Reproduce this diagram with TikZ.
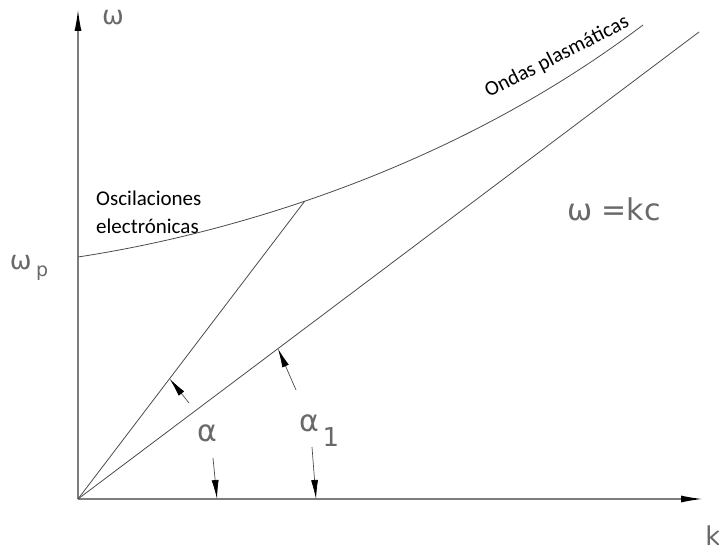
\documentclass[tikz,border=0pt]{standalone}
\usepackage{fontspec}
\setmainfont{Carlito}
\newfontfamily\cadfont{DejaVu Sans}
\usetikzlibrary{arrows.meta, positioning, calc}
\definecolor{axisgray}{RGB}{125,125,125}
\definecolor{linegray}{RGB}{75,75,75}
\definecolor{labelgray}{RGB}{105,105,105}

\tikzset{
  axis/.style={line width=1.6pt, axisgray, -{Latex[length=22pt,width=7pt,color=black]}},
  ray/.style={line width=0.8pt, linegray},
  anglearrow/.style={line width=0.7pt, linegray, -{Latex[length=19pt,width=7pt,color=black]}},
  cadlabel/.style={font=\cadfont\fontsize{26}{26}\selectfont, labelgray, inner sep=0pt},
  curvetext/.style={font=\fontsize{21}{28}\selectfont, black, inner sep=0pt, align=left},
}

\begin{document}
\begin{tikzpicture}[x=1pt, y=1pt]
    \useasboundingbox (0,0) rectangle (719,554);

    % axes
    \coordinate (O) at (78,55);
    \coordinate (ytip) at (78,545);
    \coordinate (xtip) at (703,55);
    \draw[axis] (O) -- (ytip);
    \draw[axis] (O) -- (xtip);
    \node[cadlabel] (wlabel) at (113,536) {ω};
    \node[cadlabel] (klabel) at (713,18) {k};
    \node[cadlabel] (wplabel) at (29,286) {ω\,\raisebox{-0.5ex}{\fontsize{19}{19}\selectfont p}};

    % dispersion curve
    \coordinate (wp) at (78,297);
    \coordinate (qend) at (643,529);
    \draw[ray] (wp) .. controls (190,314) and (430,368) .. coordinate[pos=0.47] (P) (qend);

    % light line and group line
    \coordinate (lend) at (699,522);
    \draw[ray] (O) -- (lend);
    \draw[ray] (O) -- (P);

    % angle arrows
    \coordinate (tip1) at ($(O)!0.404!(P)$);
    \coordinate (tail1) at (189,151);
    \coordinate (tip2) at ($(O)!0.322!(lend)$);
    \coordinate (tail2) at (296,164);
    \coordinate (tip3) at (217,55);
    \coordinate (tail3) at (213,96);
    \coordinate (tip4) at (316,55);
    \coordinate (tail4) at (312,107);
    \draw[anglearrow] (tail1) -- (tip1);
    \draw[anglearrow] (tail2) -- (tip2);
    \draw[anglearrow] (tail3) -- (tip3);
    \draw[anglearrow] (tail4) -- (tip4);

    \node[cadlabel, font=\cadfont\fontsize{30}{30}\selectfont] (alpha) at (207,121) {α};
    \node[cadlabel, font=\cadfont\fontsize{30}{30}\selectfont] (alpha1) at (309,131) {α};
    \node[cadlabel] (one) at (331,117) {1};

    % texts
    \node[cadlabel, font=\cadfont\fontsize{30}{30}\selectfont] (law) at (614,345) {ω =kc};
    \node[curvetext, anchor=west] (osc) at (96,342) {Oscilaciones\\electrónicas};
    \node[curvetext, rotate=27] (ondas) at (557,497) {Ondas plasmáticas};
\end{tikzpicture}
\end{document}
